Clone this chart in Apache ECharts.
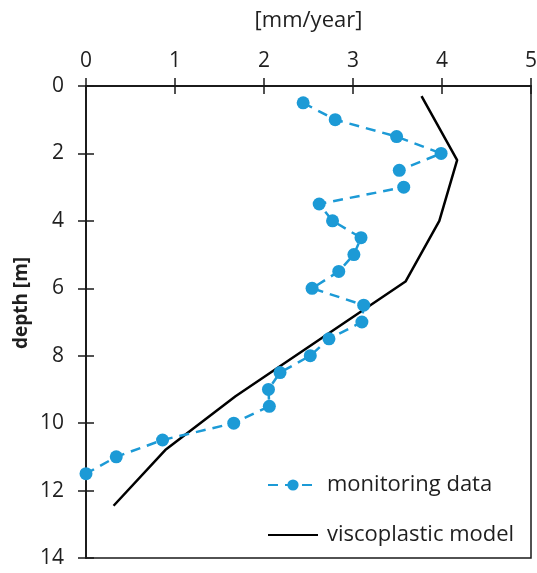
<!DOCTYPE html>
<html>
<head>
<meta charset="utf-8">
<script src="https://cdn.jsdelivr.net/npm/echarts@6/dist/echarts.min.js"></script>
<style>
  html, body { margin: 0; padding: 0; background: #fff; }
  #chart { width: 537px; height: 573px; }
</style>
</head>
<body>
<div id="chart"></div>
<script>
// Settlement rate profile: monitoring vs. viscoplastic model
const monitoringDepth = [0.5, 1.0, 1.5, 2.0, 2.5, 3.0, 3.5, 4.0, 4.5, 5.0, 5.5, 6.0,
                         6.5, 7.0, 7.5, 8.0, 8.5, 9.0, 9.5, 10.0, 10.5, 11.0, 11.5];
const monitoringRate = [2.44, 2.80, 3.49, 3.99, 3.52, 3.57, 2.62, 2.77, 3.09, 3.01, 2.84, 2.54,
                        3.12, 3.10, 2.73, 2.52, 2.18, 2.05, 2.06, 1.66, 0.86, 0.34, 0.0];
const modelDepth = [0.3, 2.2, 4.0, 5.8, 9.2, 10.8, 12.45];
const modelRate = [3.77, 4.17, 3.97, 3.59, 1.68, 0.89, 0.31];

const xTicks = [0, 1, 2, 3, 4, 5];
const yTicks = [0, 2, 4, 6, 8, 10, 12, 14];

const FONT = 'Open Sans';
const TEXT = '#1f1f1f';
const AXIS = '#1a1a1a';
const BLUE = '#1c9ad6';

const chart = echarts.init(document.getElementById('chart'), null, { renderer: 'canvas' });

const pairs = (xs, ys) => xs.map((x, i) => [x, ys[i]]);

const baseX = {
  type: 'value', position: 'top',
  min: xTicks[0], max: xTicks[xTicks.length - 1], interval: 1,
  splitLine: { show: false },
  axisLine: { show: true, lineStyle: { color: AXIS, width: 1.5 } }
};
const baseY = {
  type: 'value', inverse: true,
  min: yTicks[0], max: yTicks[yTicks.length - 1], interval: 2,
  splitLine: { show: false },
  axisLine: { show: true, lineStyle: { color: AXIS, width: 1.5 } }
};

chart.setOption({
  animation: false,
  textStyle: { fontFamily: FONT },
  grid: {
    left: 86, top: 86, right: 6, bottom: 15,
    outerBoundsMode: 'none', containLabel: false,
    show: true, borderColor: AXIS, borderWidth: 1.5, backgroundColor: 'transparent'
  },
  xAxis: [
    Object.assign({}, baseX, {
      name: '[mm/year]', nameLocation: 'middle', nameGap: 54,
      nameTextStyle: { fontFamily: FONT, fontSize: 22, color: TEXT },
      axisTick: { show: true, inside: false, length: 8, lineStyle: { color: AXIS, width: 1.5 } },
      axisLabel: { fontFamily: FONT, fontSize: 21, color: TEXT, margin: 14 }
    }),
    Object.assign({}, baseX, {
      axisTick: { show: true, inside: true, length: 8, lineStyle: { color: AXIS, width: 1.5 } },
      axisLabel: { show: false }
    })
  ],
  yAxis: [
    Object.assign({}, baseY, {
      axisTick: { show: true, inside: false, length: 8, lineStyle: { color: AXIS, width: 1.5 } },
      axisLabel: { fontFamily: FONT, fontSize: 21, color: TEXT, margin: 22 }
    }),
    Object.assign({}, baseY, {
      position: 'left',
      axisTick: { show: true, inside: true, length: 8, lineStyle: { color: AXIS, width: 1.5 } },
      axisLabel: { show: false }
    })
  ],
  graphic: [{
    type: 'text', x: 22, y: 303, rotation: Math.PI / 2,
    style: {
      text: 'depth [m]', fontFamily: FONT, fontSize: 19, fontWeight: 'bold',
      fill: TEXT, align: 'center', verticalAlign: 'middle'
    }
  }],
  legend: {
    orient: 'vertical', left: 262, top: 469,
    itemWidth: 50, itemHeight: 14, itemGap: 28,
    textStyle: { fontFamily: FONT, fontSize: 22, color: TEXT, padding: [0, 0, 0, 4] },
    data: [
      { name: 'monitoring data' },
      { name: 'viscoplastic model', itemStyle: { opacity: 0 } }
    ]
  },
  series: [
    {
      name: 'monitoring data', type: 'line', xAxisIndex: 0, yAxisIndex: 0,
      data: pairs(monitoringRate, monitoringDepth),
      symbol: 'circle', symbolSize: 13, clip: false,
      itemStyle: { color: BLUE },
      lineStyle: { color: BLUE, width: 2.5, type: [10, 7] },
      z: 3
    },
    {
      name: 'viscoplastic model', type: 'line', xAxisIndex: 0, yAxisIndex: 0,
      data: pairs(modelRate, modelDepth),
      symbol: 'none', clip: false,
      itemStyle: { color: '#000' },
      lineStyle: { color: '#000', width: 2.5 },
      z: 2
    }
  ]
});
</script>
</body>
</html>
